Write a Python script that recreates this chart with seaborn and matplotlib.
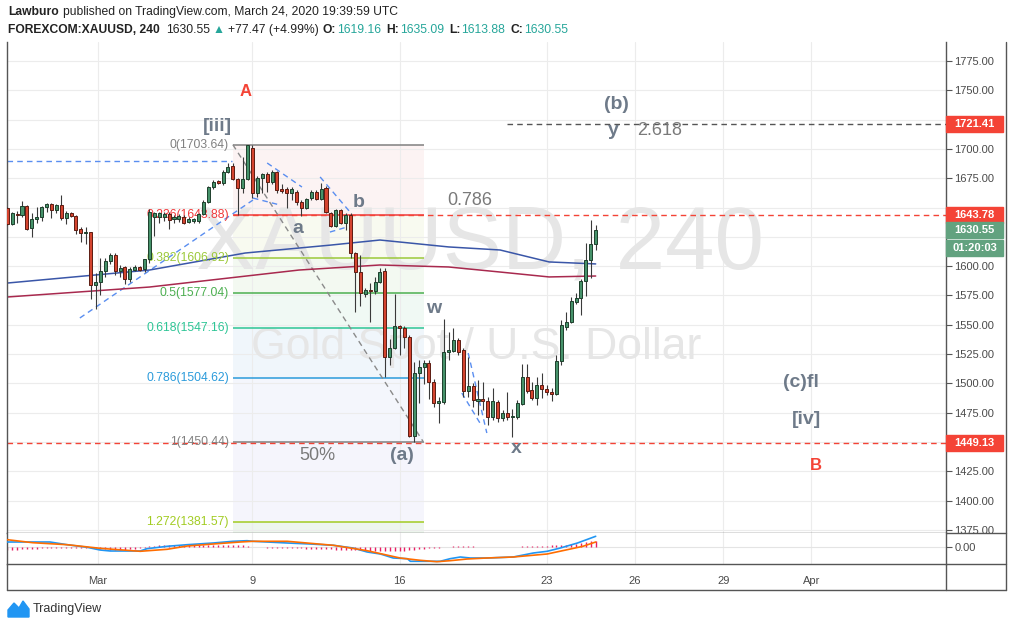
import numpy as np
import matplotlib.pyplot as plt
import matplotlib.transforms as mtrans
from matplotlib.patches import Rectangle, Polygon
from matplotlib.lines import Line2D
import seaborn as sns

# 4h candles of XAUUSD (bar index = position)
opens = [1649.6, 1636.0, 1644.5, 1643.6, 1651.3, 1632.5, 1640.2, 1641.9, 1650.5, 1653.0,
         1647.9, 1652.2, 1641.1, 1645.3, 1642.8, 1631.7, 1628.3, 1629.1, 1583.9, 1586.5,
         1595.9, 1604.4, 1609.5, 1595.9, 1599.3, 1589.1, 1596.7, 1599.3, 1597.6, 1606.1,
         1641.9, 1642.0, 1641.9, 1644.5, 1640.2, 1640.2, 1641.9, 1637.7, 1638.5, 1638.5,
         1644.5, 1654.7, 1667.5, 1672.6, 1670.9, 1680.3, 1685.4, 1674.3, 1666.7, 1674.3,
         1700.8, 1662.4, 1675.2, 1678.6, 1671.8, 1680.3, 1665.8, 1665.8, 1662.4, 1663.3,
         1654.7, 1649.6, 1658.1, 1663.3, 1657.3, 1666.7, 1645.3, 1634.3, 1647.9, 1636.8,
         1643.6, 1611.2, 1595.0, 1576.3, 1579.7, 1578.8, 1586.5, 1595.9, 1522.6, 1530.2,
         1549.0, 1547.3, 1539.6, 1455.2, 1508.9, 1514.0, 1517.4, 1501.2, 1483.3, 1484.1,
         1526.8, 1527.7, 1537.0, 1528.5, 1493.5, 1497.8, 1485.0, 1486.7, 1485.0, 1471.4,
         1484.1, 1470.5, 1474.8, 1471.4, 1471.4, 1482.4, 1505.5, 1494.4, 1487.5, 1498.6,
         1495.2, 1492.7, 1491.0, 1519.1, 1548.1, 1552.4, 1569.4, 1572.8, 1587.3, 1605.3,
         1619.16]
closes = [1636.0, 1645.3, 1643.6, 1651.3, 1631.7, 1640.2, 1641.9, 1650.5, 1653.0, 1647.9,
          1652.2, 1641.1, 1645.3, 1642.8, 1630.8, 1628.3, 1629.1, 1583.9, 1586.5, 1595.9,
          1604.4, 1609.5, 1595.9, 1598.4, 1589.1, 1597.6, 1599.3, 1596.7, 1606.1, 1646.2,
          1645.3, 1645.3, 1644.5, 1639.4, 1641.9, 1642.8, 1636.8, 1640.2, 1640.2, 1644.5,
          1654.7, 1667.5, 1671.8, 1670.9, 1680.3, 1684.6, 1674.3, 1666.7, 1674.3, 1703.3,
          1662.4, 1675.2, 1678.6, 1671.8, 1680.3, 1665.0, 1664.1, 1662.4, 1665.8, 1654.7,
          1649.6, 1657.3, 1663.3, 1657.3, 1665.8, 1646.2, 1634.3, 1647.9, 1636.8, 1643.6,
          1611.2, 1595.0, 1577.1, 1579.7, 1578.8, 1586.5, 1595.0, 1522.6, 1530.2, 1549.0,
          1547.3, 1539.6, 1455.2, 1508.9, 1514.0, 1517.4, 1501.2, 1483.3, 1485.0, 1526.8,
          1528.5, 1537.0, 1526.8, 1493.5, 1497.8, 1485.8, 1486.7, 1485.0, 1471.4, 1485.0,
          1470.5, 1474.8, 1471.4, 1472.2, 1483.3, 1505.5, 1493.5, 1487.5, 1498.6, 1495.2,
          1492.7, 1491.0, 1519.1, 1549.8, 1552.4, 1570.3, 1572.8, 1587.3, 1605.3, 1619.2,
          1630.55]
highs = [1650.5, 1646.2, 1647.0, 1655.6, 1652.2, 1645.3, 1650.5, 1651.3, 1653.9, 1653.9,
         1653.0, 1660.7, 1647.0, 1646.2, 1643.6, 1633.4, 1633.4, 1629.5, 1594.2, 1607.0,
         1607.0, 1611.2, 1611.2, 1601.0, 1600.1, 1599.3, 1601.0, 1600.1, 1606.5, 1648.7,
         1646.2, 1646.2, 1646.2, 1646.2, 1643.6, 1644.5, 1643.6, 1641.9, 1641.1, 1645.3,
         1656.4, 1668.0, 1673.5, 1673.5, 1682.0, 1688.0, 1688.0, 1675.2, 1693.1, 1703.64,
         1703.3, 1676.9, 1679.5, 1680.3, 1682.0, 1681.2, 1670.1, 1667.5, 1667.5, 1665.0,
         1656.4, 1658.1, 1665.0, 1665.0, 1670.9, 1668.4, 1646.2, 1648.7, 1648.7, 1645.3,
         1645.3, 1612.1, 1609.5, 1581.4, 1585.6, 1590.8, 1598.4, 1598.4, 1537.9, 1576.3,
         1549.8, 1549.0, 1541.3, 1518.3, 1520.0, 1520.0, 1520.0, 1503.8, 1488.4, 1554.9,
         1543.9, 1547.3, 1538.7, 1530.2, 1522.5, 1500.4, 1502.9, 1501.2, 1488.4, 1496.1,
         1485.8, 1477.3, 1492.7, 1478.2, 1485.8, 1516.6, 1516.6, 1501.2, 1505.5, 1508.9,
         1498.6, 1496.1, 1524.2, 1554.1, 1560.9, 1573.7, 1577.1, 1589.1, 1619.8, 1639.4,
         1635.09]
lows = [1635.1, 1635.1, 1636.8, 1641.9, 1630.8, 1624.9, 1636.8, 1638.5, 1646.2, 1641.1,
        1645.3, 1639.4, 1636.0, 1641.9, 1627.4, 1620.6, 1618.9, 1572.0, 1563.5, 1575.4,
        1590.8, 1601.9, 1592.5, 1590.8, 1584.8, 1586.5, 1595.9, 1595.9, 1595.0, 1602.7,
        1625.7, 1636.8, 1638.5, 1631.7, 1636.8, 1637.7, 1636.0, 1636.8, 1636.8, 1636.8,
        1643.6, 1653.9, 1665.8, 1670.1, 1669.2, 1679.5, 1673.5, 1643.6, 1662.4, 1673.5,
        1658.2, 1659.0, 1662.4, 1663.3, 1670.1, 1662.4, 1662.4, 1649.6, 1656.4, 1652.2,
        1642.8, 1648.7, 1656.4, 1656.4, 1656.4, 1645.3, 1633.4, 1633.4, 1636.0, 1630.8,
        1607.0, 1560.9, 1566.0, 1573.7, 1552.4, 1576.3, 1585.6, 1505.5, 1515.7, 1529.4,
        1524.2, 1530.2, 1454.3, 1450.44, 1483.3, 1499.5, 1486.7, 1479.9, 1466.2, 1482.4,
        1520.0, 1526.8, 1524.2, 1488.4, 1488.4, 1479.9, 1473.0, 1477.3, 1464.5, 1468.8,
        1467.1, 1467.9, 1468.8, 1454.3, 1469.6, 1481.6, 1491.8, 1485.8, 1481.6, 1487.5,
        1490.1, 1485.0, 1490.1, 1515.7, 1545.6, 1551.5, 1567.7, 1558.3, 1574.5, 1589.9,
        1613.88]

# moving averages, read at a few bars
ma_blue_x = [0, 29, 48.5, 66, 76, 90, 100.5, 110.5, 120]
ma_blue = [1585.6, 1596.7, 1611.2, 1618.0, 1622.3, 1616.4, 1613.8, 1603.6, 1601.9]
ma_red_x = [0, 29, 59.5, 76, 90, 100.5, 110.5, 120]
ma_red = [1573.7, 1582.2, 1596.7, 1601.0, 1599.3, 1595.0, 1590.8, 1591.6]

# MACD panel
macd_x = [0, 8.7, 12.2, 16.3, 18.9, 21, 27.1, 28.5, 32.6, 36.7, 42, 46, 48.9, 50.1, 53, 57.1,
          61.8, 66.5, 70.5, 73.4, 76.1, 78.7, 81.6, 82.2, 88.3, 90.3, 92.4, 94.4, 97.9, 103.2,
          107.3, 110.1, 112.8, 116.3, 120]
macd = [10, 10, 4.6, -0.6, -6, -8, -8, -3.4, 1.4, 4.6, 8, 11.4, 12.6, 11.4, 10, 8,
        6, 3.4, -2, -10, -14, -22, -23.4, -28.6, -28.6, -23.4, -20, -22, -22, -20,
        -12, -8.6, -2, 8, 21.4]
signal_x = [0, 5.2, 12.2, 18.9, 27.1, 32.6, 36.7, 42, 47.5, 50.1, 57.1, 61.8, 66.5, 73.4,
            80.1, 84.2, 87.6, 90.3, 93.8, 97.8, 103.2, 110.1, 114.2, 117.4, 120]
signal = [14.6, 8.6, 4.6, -2.6, -8.6, -4.6, 2, 6, 10, 11.4, 11.4, 7.4, 3.4, -7.4,
          -22, -26.6, -29.4, -27.4, -24, -22, -20, -14, -5.4, 1.4, 10]
hist = [-5, -5, -5, -4, -4, -4, -4,
        -2, -2, -1.5, -1.5, -1.5, -1.5, -1.5, -1.5, -2, -2, -2, -2,
        -4, -4, -5, -5, -5, -5, -4, -4,
        -2, -1,
        3, 3, 4, 4, 4, 4, 4, 4,
        5, 5, 5, 5, 5, 5, 5, 5, 5, 4, 4, 4, 3,
        0, 0, 0,
        -2, -2, -2, -2, -2, -2, -2, -2,
        -3, -3, -4, -4, -4, -4,
        -5, -5, -6, -6, -6, -6, -6, -7,
        -7, -7, -7, -8, -8, -7, -7, -6, -5,
        -3, -3, -2,
        -1, -1,
        0, 0,
        3, 3, 3, 2, 2,
        1, 1,
        0, 0, 0, 0, 0, 0, 0,
        2, 3, 3, 3, 3, 3,
        4, 4, 5, 5,
        6, 7, 8,
        10, 12, 13]

# fibonacci retracement
fib_ratios = ['0', '0.236', '0.382', '0.5', '0.618', '0.786', '1', '1.272']
fib_prices = [1703.64, 1643.88, 1606.92, 1577.04, 1547.16, 1504.62, 1450.44, 1381.57]
fib_colors = ['#808080', '#f0393b', '#9cc93a', '#4caf50', '#2ec596', '#2b9bdb', '#808080', '#a2cc22']
fib_fills = ['#fcf3f3', '#f8faf0', '#f3f9f1', '#f0f9f4', '#f0f6fb', '#f4f6fc', '#f5f5fc', '#eef6ee']

# x axis (bar index) and price axis
date_pos = [18.5, 50, 80, 110, 128, 146, 164]
date_labels = ['Mar', '9', '16', '23', '26', '29', 'Apr']
price_ticks = np.arange(1375, 1776, 25)
hidden_ticks = [1725, 1650, 1625, 1450]   # covered by the price badges

sns.set_style('white')
plt.rcParams['font.family'] = ['Liberation Sans', 'DejaVu Sans']

W, H = 1013, 628
fig = plt.figure(figsize=(W / 100, H / 100), dpi=100)
fig.patch.set_facecolor('white')

def fx(p):
    return p / W

def fy(p):
    return 1 - p / H

frame = '#555555'
grid_c = '#ececec'
ax = fig.add_axes([fx(7), fy(533), fx(946) - fx(7), fy(42) - fy(533)])
axi = fig.add_axes([fx(7), fy(564), fx(946) - fx(7), fy(533) - fy(564)], sharex=ax)

ax.set_xlim(-0.06, 191.45)
ax.set_ylim(1372.4, 1791.2)
axi.set_ylim(-34, 28)

for a in (ax, axi):
    a.set_axisbelow(True)
    a.spines['top'].set_visible(False)
    for s in ('left', 'bottom', 'right'):
        a.spines[s].set_color(frame)
        a.spines[s].set_linewidth(1)
    a.yaxis.tick_right()

ax.set_yticks(price_ticks)
ax.set_yticklabels(['' if v in hidden_ticks else f'{v:.2f}' for v in price_ticks])
ax.set_xticks(date_pos)
ax.grid(True, color=grid_c, lw=0.8)
ax.tick_params(axis='x', bottom=False, labelbottom=False)
ax.tick_params(axis='y', length=4, width=0.8, color=frame, labelsize=8, labelcolor='#4a4a4a', pad=2)

axi.set_yticks([0])
axi.set_yticklabels(['0.00'])
axi.set_xticks(date_pos)
axi.set_xticklabels(date_labels)
axi.grid(True, axis='x', color=grid_c, lw=0.8)
axi.axhline(0, color='#e4e4e4', lw=0.8, zorder=0.6)
axi.tick_params(axis='x', length=0, pad=9, labelsize=8, labelcolor='#4a4a4a')
axi.tick_params(axis='y', length=4, width=0.8, color=frame, labelsize=8, labelcolor='#4a4a4a', pad=2)

# watermark
ax.text(96.4, 1618, 'XAUUSD, 240', ha='center', va='center', fontsize=64, color='#e6e6e6', zorder=0.6)
ax.text(95.6, 1531, 'Gold Spot / U.S. Dollar', ha='center', va='center', fontsize=32, color='#e6e6e6', zorder=0.6)

# fib zones, levels and labels
fib_x0, fib_x1 = 46, 85
bounds = fib_prices + [1372.4]
for k in range(len(fib_prices)):
    ax.fill_between([fib_x0, fib_x1], bounds[k], bounds[k + 1], color=fib_fills[k], lw=0, zorder=0.2)
for r, p, c in zip(fib_ratios, fib_prices, fib_colors):
    ax.hlines(p, fib_x0, fib_x1, color=c, lw=1.1, zorder=2)
    ax.text(fib_x0 - 0.8, p, f'{r}({p:.2f})', ha='right', va='center', color=c, fontsize=8.7, zorder=2.5)
ax.plot([fib_x0, 84.8], [fib_prices[0], fib_prices[6]], color='#8a8a8a', lw=1, ls=(0, (4, 3)), zorder=2.2)

# horizontal rays
ax.hlines(1721.41, 102, 191.45, color='#555555', lw=1, linestyles=(0, (4, 3)), zorder=2)
ax.hlines(1643.78, fib_x0, 191.45, color='#f44336', lw=1, linestyles=(0, (4, 3)), zorder=2)
ax.hlines(1449.13, -0.06, 191.45, color='#f44336', lw=1, linestyles=(0, (4, 3)), zorder=2)

# blue dashed channel lines
blue_segs = [((-0.06, 1690.1), (45.8, 1690.1)),
             ((14.8, 1555.8), (50.1, 1656.4)),
             ((53.0, 1688.0), (60.1, 1667.5)),
             ((63.8, 1676.1), (69.9, 1646.2)),
             ((50.1, 1658.1), (55.6, 1652.2)),
             ((65.8, 1629.1), (69.3, 1633.4)),
             ((94.0, 1525.9), (97.8, 1457.7)),
             ((92.7, 1491.8), (96.4, 1466.2))]
for (x0, y0), (x1, y1) in blue_segs:
    ax.plot([x0, x1], [y0, y1], color='#5a8ef0', lw=1, ls=(0, (4, 3)), zorder=2.2)

# moving averages
sns.lineplot(x=ma_blue_x, y=ma_blue, ax=ax, color='#3a56a8', linewidth=1.1, estimator=None, sort=False, zorder=2.4)
sns.lineplot(x=ma_red_x, y=ma_red, ax=ax, color='#a8294e', linewidth=1.1, estimator=None, sort=False, zorder=2.4)

# candles
idx = np.arange(len(opens))
o = np.array(opens)
c = np.array(closes)
up = c >= o
bottoms = np.minimum(o, c)
heights = np.maximum(np.abs(c - o), 0.9)
fills = np.where(up, '#46926a', '#d4442f')
edges = np.where(up, '#1e3f2c', '#5c1c12')
ax.vlines(idx, lows, highs, color='#3a3a3a', lw=0.8, zorder=3)
ax.bar(idx, heights, bottom=bottoms, width=0.62, color=fills, edgecolor=edges, linewidth=0.7, zorder=4)

# wave labels
wave_c = '#6e7a89'
num_c = '#7a7a7a'
ax.text(48.7, 1749.4, 'A', color='#f44336', fontsize=12, fontweight='bold', ha='center', va='center')
ax.text(42.8, 1718.7, '[iii]', color=wave_c, fontsize=14, fontweight='bold', ha='center', va='center')
ax.text(124.3, 1738.3, '(b)', color=wave_c, fontsize=14, fontweight='bold', ha='center', va='center')
ax.text(123.5, 1716.1, 'y', color=wave_c, fontsize=14, fontweight='bold', ha='center', va='center')
ax.text(133.1, 1716.1, '2.618', color=num_c, fontsize=13, ha='center', va='center')
ax.text(94.4, 1655.6, '0.786', color=num_c, fontsize=13, ha='center', va='center')
ax.text(71.7, 1653.9, 'b', color=wave_c, fontsize=14, fontweight='bold', ha='center', va='center', zorder=5)
ax.text(59.3, 1632.5, 'a', color=wave_c, fontsize=14, fontweight='bold', ha='center', va='center', zorder=5)
ax.text(87.0, 1564.3, 'w', color=wave_c, fontsize=14, fontweight='bold', ha='center', va='center')
ax.text(80.5, 1438.1, '(a)', color=wave_c, fontsize=14, fontweight='bold', ha='center', va='center')
ax.text(103.8, 1444.1, 'x', color=wave_c, fontsize=14, fontweight='bold', ha='center', va='center')
ax.text(63.2, 1438.1, '50%', color=num_c, fontsize=13, ha='center', va='center')
ax.text(161.9, 1500.4, '(c)fl', color=wave_c, fontsize=14, fontweight='bold', ha='center', va='center')
ax.text(162.9, 1469.6, '[iv]', color=wave_c, fontsize=14, fontweight='bold', ha='center', va='center')
ax.text(164.9, 1429.6, 'B', color='#f44336', fontsize=12, fontweight='bold', ha='center', va='center')

# MACD
axi.vlines(idx, 0, hist, color='#e91e63', lw=1, zorder=2)
sns.lineplot(x=macd_x, y=macd, ax=axi, color='#2196f3', linewidth=1.2, estimator=None, sort=False, zorder=3)
sns.lineplot(x=signal_x, y=signal, ax=axi, color='#ff6d00', linewidth=1.2, estimator=None, sort=False, zorder=3)
axi.set_xlim(-0.06, 191.45)

# price badges on the right axis
ppu = 491 / (1791.2 - 1372.4)
tr = mtrans.blended_transform_factory(ax.transAxes, ax.transData)
bw = (1003 - 946) / (946 - 7)

def badge(price, txt, color, dy_px=0):
    cy = price - dy_px / ppu
    h = 16 / ppu
    ax.add_patch(Rectangle((1.0, cy - h / 2), bw, h, transform=tr, color=color, clip_on=False, zorder=10))
    ax.text(1.0 + bw / 2, cy, txt, transform=tr, ha='center', va='center', color='white',
            fontsize=8, fontweight='bold', clip_on=False, zorder=11)

badge(1721.41, '1721.41', '#f44336')
badge(1643.78, '1643.78', '#f44336')
badge(1449.13, '1449.13', '#f44336')
badge(closes[-1], f'{closes[-1]:.2f}', '#62a27f')
badge(closes[-1], '01:20:03', '#62a27f', dy_px=18)

# outer frame
for xs, ys in [([7, 7], [564, 590]), ([7, 1006], [590, 590]), ([1006, 1006], [42, 590]),
               ([946, 946], [564, 590]), ([946, 1006], [533, 533]), ([946, 1006], [564, 564])]:
    fig.add_artist(Line2D([fx(v) for v in xs], [fy(v) for v in ys], color=frame, lw=1))

# header, pieces laid out one after another
renderer = fig.canvas.get_renderer()
hc = '#222222'
teal = '#26a69a'
fs = 8.7

def header_line(y, parts, x=8):
    for txt, w, col, gap in parts:
        t = fig.text(fx(x), fy(y), txt, fontsize=fs, fontweight=w, color=col, va='center')
        x += t.get_window_extent(renderer).width + gap

header_line(12, [('Lawburo', 'bold', hc, 4),
                 ('published on TradingView.com, March 24, 2020 19:39:59 UTC', 'normal', hc, 0)])
header_line(30, [('FOREXCOM:XAUUSD, 240', 'bold', hc, 6), ('1630.55', 'normal', hc, 3),
                 ('\u25b2', 'normal', teal, 3), ('+77.47 (+4.99%)', 'normal', hc, 4),
                 ('O:', 'bold', hc, 1), ('1619.16', 'normal', teal, 5),
                 ('H:', 'bold', hc, 1), ('1635.09', 'normal', teal, 5),
                 ('L:', 'bold', hc, 1), ('1613.88', 'normal', teal, 5),
                 ('C:', 'bold', hc, 1), ('1630.55', 'normal', teal, 0)])

# TradingView logo
logo = [(8, 617), (8, 610), (14, 603), (19, 608), (23, 601), (29, 609), (29, 617)]
fig.add_artist(Polygon([(fx(a), fy(b)) for a, b in logo], closed=True, color='#2196f3'))
fig.text(fx(33), fy(609), 'TradingView', fontsize=9, color='#333333', va='center')

fig.savefig('out.png', dpi=100, facecolor='white')
